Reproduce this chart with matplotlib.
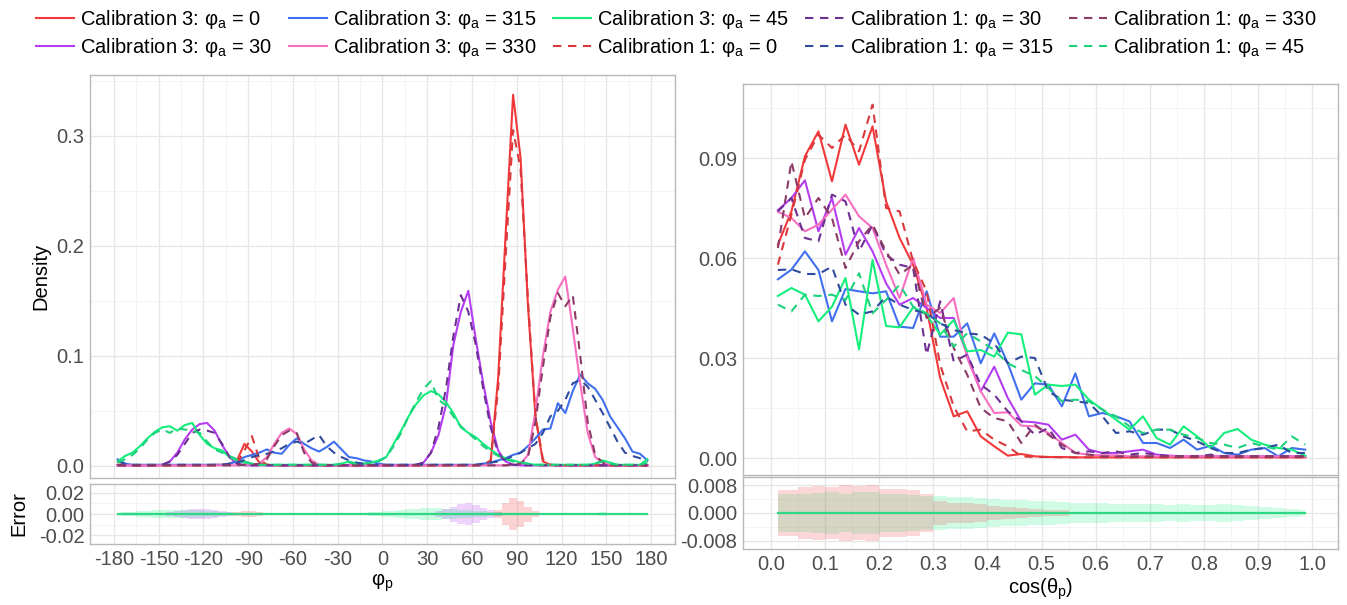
import numpy as np
import matplotlib.pyplot as plt
from matplotlib.lines import Line2D

plt.rcParams['font.family'] = ['Liberation Sans', 'DejaVu Sans']
plt.rcParams['mathtext.fontset'] = 'custom'
plt.rcParams['mathtext.rm'] = 'Liberation Sans'
plt.rcParams['mathtext.it'] = 'Liberation Sans:italic'

# azimuth bins (deg), 5 deg wide
phi = np.arange(-177.5, 180, 5.0)

# density vs phi_p, rows of 12 bins (-177.5 .. 177.5)
c3_0 = [0.001, 0.001, 0.0005, 0.0005, 0.0005, 0.0005, 0.0005, 0.0005, 0.0005, 0.0005, 0.0005, 0.0005,
        0.0005, 0.001, 0.001, 0.002, 0.005, 0.02, 0.013, 0.003, 0.001, 0.0005, 0.0005, 0.0005,
        0.0005, 0.0005, 0.0005, 0.0005, 0.0005, 0.0005, 0.0005, 0.0005, 0.0005, 0.0005, 0.0005, 0.0005,
        0.0005, 0.0005, 0.0005, 0.0005, 0.0005, 0.0005, 0.0005, 0.0005, 0.0005, 0.0005, 0.0005, 0.0005,
        0.0005, 0.001, 0.004, 0.08, 0.21, 0.337, 0.28, 0.145, 0.045, 0.004, 0.001, 0.0005,
        0.0005, 0.0005, 0.0005, 0.0005, 0.0005, 0.0005, 0.0005, 0.0005, 0.0005, 0.0005, 0.0005, 0.0005]
c1_0 = [0.001, 0.0005, 0.0005, 0.0005, 0.0005, 0.0005, 0.0005, 0.0005, 0.0005, 0.0005, 0.0005, 0.0005,
        0.0005, 0.0005, 0.001, 0.001, 0.002, 0.014, 0.027, 0.006, 0.001, 0.0005, 0.0005, 0.0005,
        0.0005, 0.0005, 0.0005, 0.0005, 0.0005, 0.0005, 0.0005, 0.0005, 0.0005, 0.0005, 0.0005, 0.0005,
        0.0005, 0.0005, 0.0005, 0.0005, 0.0005, 0.0005, 0.0005, 0.0005, 0.0005, 0.0005, 0.0005, 0.0005,
        0.0005, 0.001, 0.005, 0.07, 0.19, 0.305, 0.27, 0.15, 0.045, 0.006, 0.001, 0.0005,
        0.0005, 0.0005, 0.0005, 0.0005, 0.0005, 0.0005, 0.0005, 0.0005, 0.0005, 0.0005, 0.0005, 0.0005]
c3_30 = [0.0005, 0.0005, 0.0005, 0.0005, 0.0005, 0.0005, 0.001, 0.004, 0.012, 0.024, 0.033, 0.038,
         0.039, 0.032, 0.019, 0.008, 0.002, 0.0005, 0.0005, 0.0005, 0.0005, 0.0005, 0.0005, 0.0005,
         0.0005, 0.0005, 0.0005, 0.0005, 0.0005, 0.0005, 0.0005, 0.0005, 0.0005, 0.0005, 0.0005, 0.0005,
         0.0005, 0.0005, 0.0005, 0.0005, 0.001, 0.003, 0.012, 0.028, 0.055, 0.11, 0.14, 0.159,
         0.115, 0.075, 0.04, 0.014, 0.004, 0.001, 0.0005, 0.0005, 0.0005, 0.0005, 0.0005, 0.0005,
         0.0005, 0.0005, 0.0005, 0.0005, 0.0005, 0.0005, 0.0005, 0.0005, 0.0005, 0.0005, 0.0005, 0.0005]
c1_30 = [0.0005, 0.0005, 0.0005, 0.0005, 0.0005, 0.0005, 0.001, 0.004, 0.01, 0.02, 0.03, 0.033,
         0.032, 0.03, 0.02, 0.008, 0.002, 0.0005, 0.0005, 0.0005, 0.0005, 0.0005, 0.0005, 0.0005,
         0.0005, 0.0005, 0.0005, 0.0005, 0.0005, 0.0005, 0.0005, 0.0005, 0.0005, 0.0005, 0.0005, 0.0005,
         0.0005, 0.0005, 0.0005, 0.0005, 0.001, 0.003, 0.012, 0.035, 0.07, 0.118, 0.155, 0.14,
         0.11, 0.07, 0.035, 0.012, 0.003, 0.001, 0.0005, 0.0005, 0.0005, 0.0005, 0.0005, 0.0005,
         0.0005, 0.0005, 0.0005, 0.0005, 0.0005, 0.0005, 0.0005, 0.0005, 0.0005, 0.0005, 0.0005, 0.0005]
c3_330 = [0.0005, 0.0005, 0.0005, 0.0005, 0.0005, 0.0005, 0.0005, 0.0005, 0.0005, 0.0005, 0.0005, 0.0005,
          0.0005, 0.0005, 0.0005, 0.0005, 0.0005, 0.001, 0.001, 0.002, 0.008, 0.02, 0.03, 0.034,
          0.029, 0.015, 0.005, 0.001, 0.0005, 0.0005, 0.0005, 0.0005, 0.0005, 0.0005, 0.0005, 0.0005,
          0.0005, 0.0005, 0.0005, 0.0005, 0.0005, 0.0005, 0.0005, 0.0005, 0.0005, 0.0005, 0.0005, 0.0005,
          0.0005, 0.0005, 0.0005, 0.0005, 0.0005, 0.001, 0.002, 0.01, 0.05, 0.1, 0.14, 0.16,
          0.172, 0.125, 0.075, 0.03, 0.008, 0.003, 0.001, 0.0005, 0.0005, 0.0005, 0.0005, 0.0005]
c1_330 = [0.0005, 0.0005, 0.0005, 0.0005, 0.0005, 0.0005, 0.0005, 0.0005, 0.0005, 0.0005, 0.0005, 0.0005,
          0.0005, 0.0005, 0.0005, 0.0005, 0.0005, 0.001, 0.001, 0.002, 0.006, 0.018, 0.028, 0.032,
          0.03, 0.012, 0.003, 0.001, 0.0005, 0.0005, 0.0005, 0.0005, 0.0005, 0.0005, 0.0005, 0.0005,
          0.0005, 0.0005, 0.0005, 0.0005, 0.0005, 0.0005, 0.0005, 0.0005, 0.0005, 0.0005, 0.0005, 0.0005,
          0.0005, 0.0005, 0.0005, 0.0005, 0.0005, 0.001, 0.002, 0.008, 0.04, 0.09, 0.135, 0.157,
          0.145, 0.155, 0.1, 0.04, 0.01, 0.003, 0.001, 0.0005, 0.0005, 0.0005, 0.0005, 0.0005]
c3_315 = [0.006, 0.002, 0.001, 0.001, 0.001, 0.001, 0.001, 0.001, 0.001, 0.001, 0.001, 0.001,
          0.001, 0.001, 0.001, 0.002, 0.004, 0.008, 0.01, 0.012, 0.015, 0.012, 0.011, 0.019,
          0.025, 0.02, 0.016, 0.013, 0.017, 0.022, 0.015, 0.008, 0.007, 0.005, 0.004, 0.002,
          0.001, 0.001, 0.001, 0.001, 0.001, 0.001, 0.001, 0.001, 0.001, 0.001, 0.001, 0.001,
          0.001, 0.002, 0.003, 0.005, 0.007, 0.01, 0.012, 0.018, 0.025, 0.033, 0.034, 0.057,
          0.048, 0.068, 0.083, 0.075, 0.07, 0.06, 0.045, 0.035, 0.025, 0.013, 0.011, 0.005]
c1_315 = [0.004, 0.002, 0.001, 0.001, 0.001, 0.001, 0.001, 0.001, 0.001, 0.001, 0.001, 0.001,
          0.001, 0.001, 0.001, 0.002, 0.003, 0.005, 0.008, 0.01, 0.011, 0.013, 0.016, 0.02,
          0.022, 0.02, 0.024, 0.028, 0.018, 0.012, 0.008, 0.005, 0.003, 0.002, 0.001, 0.001,
          0.001, 0.001, 0.001, 0.001, 0.001, 0.001, 0.001, 0.001, 0.001, 0.001, 0.001, 0.001,
          0.001, 0.002, 0.003, 0.004, 0.006, 0.009, 0.012, 0.016, 0.02, 0.03, 0.045, 0.05,
          0.06, 0.075, 0.078, 0.072, 0.06, 0.048, 0.035, 0.022, 0.012, 0.009, 0.007, 0.004]
c3_45 = [0.004, 0.009, 0.012, 0.018, 0.025, 0.031, 0.035, 0.036, 0.032, 0.037, 0.039, 0.028,
         0.02, 0.016, 0.014, 0.008, 0.005, 0.003, 0.002, 0.001, 0.001, 0.001, 0.001, 0.001,
         0.001, 0.001, 0.001, 0.001, 0.001, 0.001, 0.002, 0.004, 0.002, 0.002, 0.003, 0.005,
         0.008, 0.02, 0.032, 0.045, 0.056, 0.064, 0.068, 0.065, 0.058, 0.048, 0.035, 0.03,
         0.026, 0.02, 0.015, 0.01, 0.007, 0.005, 0.003, 0.002, 0.001, 0.001, 0.001, 0.001,
         0.001, 0.001, 0.001, 0.001, 0.002, 0.005, 0.003, 0.001, 0.001, 0.001, 0.001, 0.006]
c1_45 = [0.003, 0.006, 0.01, 0.016, 0.024, 0.03, 0.033, 0.03, 0.034, 0.033, 0.032, 0.03,
         0.022, 0.015, 0.012, 0.009, 0.006, 0.004, 0.002, 0.001, 0.001, 0.001, 0.001, 0.001,
         0.001, 0.001, 0.001, 0.001, 0.001, 0.001, 0.002, 0.003, 0.002, 0.002, 0.003, 0.004,
         0.008, 0.018, 0.03, 0.045, 0.058, 0.07, 0.077, 0.06, 0.055, 0.045, 0.036, 0.03,
         0.024, 0.018, 0.013, 0.009, 0.006, 0.004, 0.003, 0.002, 0.001, 0.001, 0.001, 0.001,
         0.001, 0.001, 0.001, 0.001, 0.002, 0.004, 0.002, 0.001, 0.001, 0.001, 0.001, 0.003]

# error half widths vs phi_p
err_phi_0 = [0, 0, 0, 0, 0, 0, 0, 0, 0, 0, 0, 0,
             0, 0, 0, 0, 0.002, 0.003, 0.003, 0.002, 0, 0, 0, 0,
             0, 0, 0, 0, 0, 0, 0, 0, 0, 0, 0, 0,
             0, 0, 0, 0, 0, 0, 0, 0, 0, 0, 0, 0,
             0, 0, 0, 0.004, 0.01, 0.015, 0.012, 0.007, 0.003, 0, 0, 0,
             0, 0, 0, 0, 0, 0, 0, 0, 0, 0, 0, 0]
err_phi_30 = [0, 0, 0, 0, 0, 0, 0, 0.002, 0.003, 0.004, 0.005, 0.005,
              0.005, 0.004, 0.003, 0.002, 0, 0, 0, 0, 0, 0, 0, 0,
              0, 0, 0, 0, 0, 0, 0, 0, 0, 0, 0, 0,
              0, 0, 0, 0, 0, 0, 0, 0.003, 0.005, 0.007, 0.009, 0.01,
              0.008, 0.006, 0.004, 0.002, 0, 0, 0, 0, 0, 0, 0, 0,
              0, 0, 0, 0, 0, 0, 0, 0, 0, 0, 0, 0]
err_phi_45 = [0.001, 0.0015, 0.002, 0.0025, 0.003, 0.0035, 0.004, 0.004, 0.004, 0.004, 0.004, 0.0035,
              0.003, 0.0025, 0.002, 0.0015, 0.001, 0, 0, 0, 0, 0, 0, 0,
              0, 0, 0, 0, 0, 0, 0, 0, 0, 0.001, 0.0015, 0.002,
              0.0025, 0.003, 0.004, 0.0045, 0.005, 0.0055, 0.006, 0.0055, 0.005, 0.0045, 0.004, 0.0035,
              0.003, 0.0025, 0.002, 0.0015, 0.001, 0, 0, 0, 0, 0, 0, 0,
              0, 0, 0, 0, 0, 0.0015, 0, 0, 0, 0, 0, 0]

# polar bins, cos(theta_p), 0.025 wide
cth = np.arange(0.0125, 1.0, 0.025)

r_c3_0 = [0.064, 0.074, 0.0905, 0.098, 0.083, 0.1, 0.088, 0.0995, 0.077, 0.066,
          0.058, 0.045, 0.024, 0.0125, 0.014, 0.0065, 0.0035, 0.0007, 0.0012, 0.0005,
          0.0003, 0.0003, 0.0002, 0.0002, 0.0002, 0.0002, 0.0002, 0.0002, 0.0002, 0.0002,
          0.0002, 0.0002, 0.0002, 0.0002, 0.0002, 0.0002, 0.0002, 0.0002, 0.0002, 0.0002]
r_c1_0 = [0.058, 0.073, 0.0895, 0.097, 0.093, 0.097, 0.092, 0.106, 0.075, 0.074,
          0.059, 0.05, 0.028, 0.0155, 0.008, 0.0085, 0.0055, 0.0035, 0.0005, 0.0003,
          0.0003, 0.0002, 0.0002, 0.0002, 0.0002, 0.0002, 0.0002, 0.0002, 0.0002, 0.0002,
          0.0002, 0.0002, 0.0002, 0.0002, 0.0002, 0.0002, 0.0002, 0.0002, 0.0002, 0.0002]
r_c3_30 = [0.0743, 0.078, 0.0833, 0.068, 0.078, 0.061, 0.069, 0.062, 0.0524, 0.046,
           0.048, 0.045, 0.042, 0.042, 0.031, 0.02, 0.0274, 0.018, 0.011, 0.0107,
           0.01, 0.0055, 0.007, 0.0025, 0.0015, 0.0015, 0.002, 0.0025, 0.001, 0.0007,
           0.0005, 0.0005, 0.0005, 0.0005, 0.0005, 0.0005, 0.0005, 0.0005, 0.0005, 0.0005]
r_c1_30 = [0.074, 0.078, 0.066, 0.065, 0.079, 0.077, 0.062, 0.07, 0.061, 0.058,
           0.057, 0.031, 0.047, 0.029, 0.031, 0.022, 0.019, 0.014, 0.011, 0.007,
           0.009, 0.003, 0.0015, 0.002, 0.0015, 0.002, 0.001, 0.0015, 0.001, 0.0005,
           0.0005, 0.0005, 0.001, 0.0005, 0.0005, 0.0005, 0.0005, 0.0005, 0.0005, 0.0005]
r_c3_330 = [0.0739, 0.072, 0.068, 0.07, 0.0745, 0.079, 0.0725, 0.069, 0.058, 0.048,
            0.06, 0.046, 0.0435, 0.048, 0.03, 0.02, 0.0135, 0.0137, 0.0097, 0.0095,
            0.0075, 0.0045, 0.0015, 0.001, 0.0008, 0.0008, 0.0005, 0.0005, 0.0005, 0.0005,
            0.0005, 0.0005, 0.0005, 0.0005, 0.0005, 0.0005, 0.0005, 0.0005, 0.0005, 0.0005]
r_c1_330 = [0.063, 0.089, 0.072, 0.078, 0.072, 0.057, 0.065, 0.07, 0.062, 0.055,
            0.058, 0.042, 0.045, 0.033, 0.025, 0.015, 0.012, 0.011, 0.0045, 0.01,
            0.007, 0.004, 0.0015, 0.001, 0.0005, 0.0005, 0.0005, 0.0005, 0.0005, 0.0005,
            0.0005, 0.0005, 0.0005, 0.0005, 0.0005, 0.0005, 0.0005, 0.0005, 0.0005, 0.0005]
r_c3_315 = [0.0536, 0.0565, 0.062, 0.0564, 0.041, 0.0507, 0.05, 0.0494, 0.05, 0.0394,
            0.039, 0.05, 0.0364, 0.0364, 0.0404, 0.0284, 0.0374, 0.0284, 0.0175, 0.0224,
            0.022, 0.0155, 0.0254, 0.0125, 0.0135, 0.0125, 0.011, 0.0045, 0.0045, 0.003,
            0.0055, 0.0025, 0.0037, 0.0015, 0.001, 0.0025, 0.003, 0.0005, 0.003, 0.0025]
r_c1_315 = [0.0564, 0.0566, 0.0552, 0.0552, 0.0574, 0.046, 0.043, 0.044, 0.0484, 0.046,
            0.0444, 0.0434, 0.0404, 0.0384, 0.0374, 0.037, 0.0344, 0.0284, 0.0304, 0.03,
            0.02, 0.0175, 0.017, 0.0165, 0.0125, 0.0075, 0.008, 0.007, 0.0085, 0.0085,
            0.0065, 0.005, 0.003, 0.0015, 0.0015, 0.0025, 0.003, 0.004, 0.0015, 0.0015]
r_c3_45 = [0.0486, 0.051, 0.049, 0.041, 0.0454, 0.054, 0.0326, 0.0594, 0.0396, 0.0392,
           0.0452, 0.043, 0.037, 0.0414, 0.032, 0.0324, 0.0304, 0.0376, 0.0371, 0.019,
           0.022, 0.0216, 0.022, 0.0175, 0.0145, 0.0115, 0.0085, 0.0125, 0.006, 0.004,
           0.0095, 0.0065, 0.003, 0.0075, 0.0087, 0.0055, 0.004, 0.003, 0.0025, 0.0007]
r_c1_45 = [0.046, 0.044, 0.049, 0.0486, 0.049, 0.0474, 0.0554, 0.0434, 0.0474, 0.052,
           0.0454, 0.0434, 0.0404, 0.0334, 0.0374, 0.035, 0.0324, 0.0284, 0.0264, 0.0246,
           0.021, 0.017, 0.0175, 0.017, 0.0145, 0.0125, 0.0095, 0.0075, 0.0085, 0.0085,
           0.007, 0.006, 0.0045, 0.004, 0.003, 0.0045, 0.0035, 0.0025, 0.0065, 0.004]

err_cth_0 = [0.0065, 0.0065, 0.0075, 0.0078, 0.0075, 0.008, 0.0077, 0.008, 0.007, 0.0068,
             0.0065, 0.0055, 0.0035, 0.003, 0.003, 0.0025, 0.002, 0.0018, 0.0015, 0.0012,
             0.001, 0.0008, 0.0003, 0.0003, 0.0003, 0.0003, 0.0003, 0.0003, 0.0003, 0.0003,
             0.0003, 0.0003, 0.0003, 0.0003, 0.0003, 0.0003, 0.0003, 0.0003, 0.0003, 0.0003]
err_cth_45 = [0.0055, 0.0055, 0.0055, 0.0057, 0.006, 0.0055, 0.006, 0.006, 0.0055, 0.0055,
              0.0052, 0.005, 0.0048, 0.0045, 0.0045, 0.0042, 0.004, 0.0038, 0.0037, 0.0035,
              0.0033, 0.0032, 0.003, 0.003, 0.0028, 0.0027, 0.0026, 0.0025, 0.0025, 0.0024,
              0.0026, 0.0024, 0.0023, 0.0025, 0.0022, 0.002, 0.0018, 0.0015, 0.0012, 0.0008]

# legend labels / colours
labels = ['Calibration 3: φ$_{\\rm a}$ = 0', 'Calibration 3: φ$_{\\rm a}$ = 30',
          'Calibration 3: φ$_{\\rm a}$ = 315', 'Calibration 3: φ$_{\\rm a}$ = 330',
          'Calibration 3: φ$_{\\rm a}$ = 45', 'Calibration 1: φ$_{\\rm a}$ = 0',
          'Calibration 1: φ$_{\\rm a}$ = 30', 'Calibration 1: φ$_{\\rm a}$ = 315',
          'Calibration 1: φ$_{\\rm a}$ = 330', 'Calibration 1: φ$_{\\rm a}$ = 45']
colors = ['#f3383a', '#b43df2', '#4170ee', '#f76fc0', '#14ef7c',
          '#d9393c', '#6e2f92', '#2f4b9e', '#8c3a66', '#1fd07c']
styles = ['-'] * 5 + ['--'] * 5
dash = (4.0, 3.2)

phi_series = [c3_0, c3_30, c3_315, c3_330, c3_45, c1_0, c1_30, c1_315, c1_330, c1_45]
cth_series = [r_c3_0, r_c3_30, r_c3_315, r_c3_330, r_c3_45,
              r_c1_0, r_c1_30, r_c1_315, r_c1_330, r_c1_45]

fig = plt.figure(figsize=(13.47, 6.05), dpi=100)
W, H = 1347, 605


def box(x0, y0, x1, y1):
    return [x0 / W, 1 - y1 / H, (x1 - x0) / W, (y1 - y0) / H]


ax1 = fig.add_axes(box(90, 75, 675, 478))
ax1e = fig.add_axes(box(90, 484, 675, 544))
ax2 = fig.add_axes(box(743, 84, 1338, 475))
ax2e = fig.add_axes(box(743, 477, 1338, 549))

tick_col = '#4d4d4d'
for ax in (ax1, ax1e, ax2, ax2e):
    ax.set_facecolor('white')
    for s in ax.spines.values():
        s.set_color('#b8b8b8')
        s.set_linewidth(1.0)
    ax.grid(True, which='major', color='#e6e6e6', lw=0.9)
    ax.grid(True, which='minor', color='#f2f2f2', lw=0.6)
    ax.set_axisbelow(True)
    ax.tick_params(which='both', length=0, labelsize=14.5, labelcolor=tick_col, pad=4)

# left: density vs phi_p
for y, c, ls in zip(phi_series, colors, styles):
    if ls == '--':
        ax1.plot(phi, y, color=c, lw=1.5, dashes=dash)
    else:
        ax1.plot(phi, y, color=c, lw=1.5)
ax1.set_xlim(-196, 196)
ax1.set_ylim(-0.011, 0.355)
ax1.set_xticks(np.arange(-180, 181, 30))
ax1.set_xticks(np.arange(-165, 180, 30), minor=True)
ax1.set_yticks([0.0, 0.1, 0.2, 0.3])
ax1.set_yticks([0.05, 0.15, 0.25, 0.35], minor=True)
ax1.set_yticklabels(['0.0', '0.1', '0.2', '0.3'])
ax1.set_xticklabels([])
ax1.set_ylabel('Density', fontsize=14.5)
ax1.yaxis.set_label_coords(-0.068, 0.5)

for e, c in ((err_phi_45, '#14ef7c'), (err_phi_30, '#b43df2'), (err_phi_0, '#f3383a')):
    e = np.array(e)
    ax1e.fill_between(phi, -e, e, step='mid', color=c, alpha=0.22, lw=0)
ax1e.plot(phi, np.zeros_like(phi), color='#2fd884', lw=1.6)
ax1e.set_xlim(-196, 196)
ax1e.set_ylim(-0.028, 0.028)
ax1e.set_xticks(np.arange(-180, 181, 30))
ax1e.set_xticks(np.arange(-165, 180, 30), minor=True)
ax1e.set_yticks([-0.02, 0.0, 0.02])
ax1e.set_yticks([-0.01, 0.01], minor=True)
ax1e.set_yticklabels(['-0.02', '0.00', '0.02'])
ax1e.set_xticklabels([str(v) for v in range(-180, 181, 30)])
ax1e.set_ylabel('Error', fontsize=14.5)
ax1e.yaxis.set_label_coords(-0.105, 0.5)
ax1e.set_xlabel('φ$_{\\rm p}$', fontsize=14.5, labelpad=2)

# right: density vs cos(theta_p)
for y, c, ls in zip(cth_series, colors, styles):
    if ls == '--':
        ax2.plot(cth, y, color=c, lw=1.5, dashes=dash)
    else:
        ax2.plot(cth, y, color=c, lw=1.5)
ax2.set_xlim(-0.052, 1.048)
ax2.set_ylim(-0.0051, 0.1122)
ax2.set_xticks(np.arange(0, 1.01, 0.1))
ax2.set_xticks(np.arange(0.05, 1.0, 0.1), minor=True)
ax2.set_yticks([0.0, 0.03, 0.06, 0.09])
ax2.set_yticks([0.015, 0.045, 0.075, 0.105], minor=True)
ax2.set_yticklabels(['0.00', '0.03', '0.06', '0.09'])
ax2.set_xticklabels([])

for e, c in ((err_cth_45, '#14ef7c'), (err_cth_0, '#f3383a')):
    e = np.array(e)
    ax2e.fill_between(cth, -e, e, step='mid', color=c, alpha=0.2, lw=0)
ax2e.plot(cth, np.zeros_like(cth), color='#2fd884', lw=1.6)
ax2e.set_xlim(-0.052, 1.048)
ax2e.set_ylim(-0.0103, 0.0103)
ax2e.set_xticks(np.arange(0, 1.01, 0.1))
ax2e.set_xticks(np.arange(0.05, 1.0, 0.1), minor=True)
ax2e.set_yticks([-0.008, 0.0, 0.008])
ax2e.set_yticks([-0.004, 0.004], minor=True)
ax2e.set_yticklabels(['-0.008', '0.000', '0.008'])
ax2e.set_xticklabels(['%.1f' % v for v in np.arange(0, 1.01, 0.1)])
ax2e.set_xlabel('cos(θ$_{\\rm p}$)', fontsize=14.5, labelpad=2)

# legend at top
handles = []
for c, ls in zip(colors, styles):
    if ls == '--':
        handles.append(Line2D([], [], color=c, lw=1.5, dashes=dash))
    else:
        handles.append(Line2D([], [], color=c, lw=1.5))
fig.legend(handles, labels, loc='upper left', bbox_to_anchor=(28 / W, 1.0), ncol=5,
           frameon=False, fontsize=14.5, handlelength=1.9, handletextpad=0.3,
           columnspacing=0.8, labelspacing=0.25, borderaxespad=0.0)

fig.savefig('out.png', dpi=100)
